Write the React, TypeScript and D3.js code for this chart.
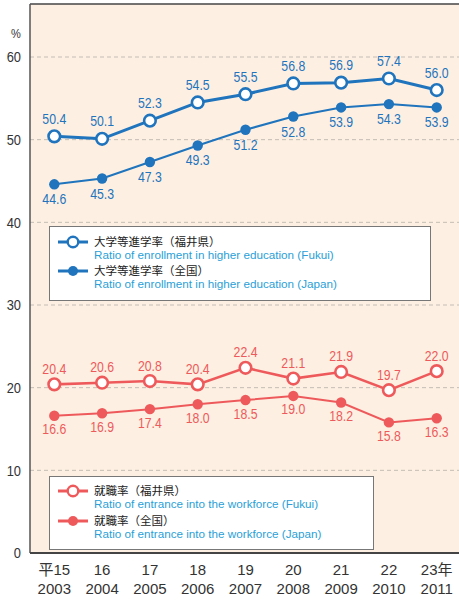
import React from 'react';
import { scaleLinear, scalePoint, line } from 'd3';

const eraLabels = ['平15', '16', '17', '18', '19', '20', '21', '22', '23年'];
const years = ['2003', '2004', '2005', '2006', '2007', '2008', '2009', '2010', '2011'];
const yTicks = [0, 10, 20, 30, 40, 50, 60];

const higherFukui = [50.4, 50.1, 52.3, 54.5, 55.5, 56.8, 56.9, 57.4, 56.0];
const higherJapan = [44.6, 45.3, 47.3, 49.3, 51.2, 52.8, 53.9, 54.3, 53.9];
const workFukui = [20.4, 20.6, 20.8, 20.4, 22.4, 21.1, 21.9, 19.7, 22.0];
const workJapan = [16.6, 16.9, 17.4, 18.0, 18.5, 19.0, 18.2, 15.8, 16.3];

const BLUE = '#1f74bd';
const RED = '#ee5a5c';
const LBLUE = '#2a9fd8';
const SANS = '"Liberation Sans", Arial, sans-serif';

function App() {
  const width = 459, height = 601;
  const left = 30, top = 4, bottom = 553;

  const x = scalePoint<string>().domain(years).range([54.3, 436.7]);
  const y = scaleLinear().domain([0, 60]).range([bottom, 57]);

  const gen = line<number>()
    .x((d, i) => x(years[i]) as number)
    .y(d => y(d));

  // condensed-looking number text (narrow face not installed)
  const narrow = (tx: number, ty: number, s: string, color: string, size: number, anchor: string, sx: number, key?: any) => (
    <text key={key} transform={`translate(${tx},${ty}) scale(${sx},1)`} textAnchor={anchor}
      fontSize={size} fill={color} fontFamily={SANS}>{s}</text>
  );

  // one series = line + markers + labels
  const series = (vals: number[], color: string, open: boolean, above: boolean, lw: number, up: number, down: number) => (
    <g>
      <path d={gen(vals) || ''} fill="none" stroke={color} strokeWidth={lw} />
      {vals.map((v, i) => (
        <circle key={'c' + i} cx={x(years[i])} cy={y(v)} r={open ? 5.8 : 5.2}
          fill={open ? '#fff' : color} stroke={open ? color : 'none'} strokeWidth={open ? 2.6 : 0} />
      ))}
      {vals.map((v, i) =>
        narrow(x(years[i]) as number, above ? y(v) - up : y(v) + down, v.toFixed(1), color, 15, 'middle', 0.82, 't' + i)
      )}
    </g>
  );

  const legendItem = (ly: number, color: string, open: boolean, lw: number, jp: string, en: string) => (
    <g>
      <line x1={58} x2={88} y1={ly} y2={ly} stroke={color} strokeWidth={lw} />
      <circle cx={73} cy={ly} r={open ? 5.3 : 5} fill={open ? '#fff' : color}
        stroke={open ? color : 'none'} strokeWidth={open ? 2.4 : 0} />
      <text x={94} y={ly + 3.8} fontSize={11.5} fill="#222" fontFamily='"Noto Sans CJK JP", sans-serif'>{jp}</text>
      <text x={94} y={ly + 17} fontSize={11.7} fill={LBLUE} fontFamily={SANS}>{en}</text>
    </g>
  );

  return (
    <svg width={width} height={height} style={{ position: 'absolute', left: 0, top: 0 }}>
      <rect x={left} y={top} width={width - left} height={bottom - top} fill="#fdf0e2" />
      <line x1={left} x2={width} y1={top} y2={top} stroke="#444" strokeWidth={1.5} />

      {yTicks.filter(t => t > 0).map(t => (
        <line key={t} x1={left} x2={width} y1={y(t)} y2={y(t)} stroke="#c4bcb4" strokeWidth={1} strokeDasharray="4,3" />
      ))}

      <line x1={left} x2={left} y1={top} y2={bottom} stroke="#555" strokeWidth={1.5} />
      <line x1={left} x2={width} y1={bottom} y2={bottom} stroke="#444" strokeWidth={2} />

      {yTicks.map(t => narrow(21, y(t) + 5.3, String(t), '#333', 15, 'end', 0.86, 't' + t))}
      {narrow(16, 38, '%', '#333', 13, 'middle', 0.85)}

      {years.map((yr, i) => (
        <g key={yr}>
          <text x={x(yr)} y={575} textAnchor="middle" fontSize={15} fill="#333" fontFamily='"Liberation Sans", "Noto Sans CJK JP", sans-serif'>{eraLabels[i]}</text>
          <text x={x(yr)} y={594} textAnchor="middle" fontSize={15} fill="#333" fontFamily={SANS}>{yr}</text>
        </g>
      ))}

      {series(higherJapan, BLUE, false, false, 2, 0, 20)}
      {series(higherFukui, BLUE, true, true, 3, 12.5, 0)}
      {series(workJapan, RED, false, false, 2, 0, 18.5)}
      {series(workFukui, RED, true, true, 2.6, 10.5, 0)}

      <rect x={49.5} y={226.5} width={381} height={74} fill="#fff" stroke="#777" strokeWidth={1} />
      {legendItem(242, BLUE, true, 3, '大学等進学率（福井県）', 'Ratio of enrollment in higher education (Fukui)')}
      {legendItem(271, BLUE, false, 3, '大学等進学率（全国）', 'Ratio of enrollment in higher education (Japan)')}

      <rect x={49.5} y={476.5} width={324} height={73} fill="#fff" stroke="#777" strokeWidth={1} />
      {legendItem(491, RED, true, 3, '就職率（福井県）', 'Ratio of entrance into the workforce (Fukui)')}
      {legendItem(521, RED, false, 3, '就職率（全国）', 'Ratio of entrance into the workforce (Japan)')}
    </svg>
  );
}

export default App;
